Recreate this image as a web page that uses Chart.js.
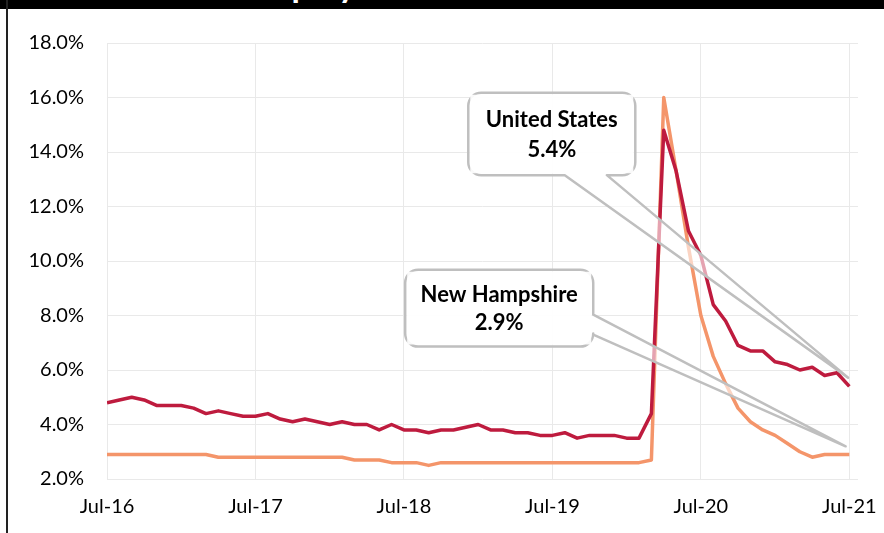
<!DOCTYPE html>
<html>
<head>
<meta charset="utf-8">
<script src="https://cdn.jsdelivr.net/npm/chart.js@4/dist/chart.umd.min.js"></script>
<style>
  html, body { margin: 0; padding: 0; background: #fff; }
  #wrap { position: absolute; left: 0; top: 0; width: 884px; height: 533px; }
  #bar { position: absolute; left: 0; top: 0; width: 884px; height: 9px; background: #000; overflow: hidden; z-index: 2; }
  #bar span { position: absolute; left: 201px; top: -33px; font: bold 34px Lato, sans-serif; line-height: 34px; color: #fff; white-space: nowrap; }
  #edge { position: absolute; left: 6px; top: 0; width: 2px; height: 533px; background: #222; z-index: 2; }
</style>
</head>
<body>
<div id="wrap">
  <div id="bar"><span>Unemployment Rate</span></div>
  <div id="edge"></div>
  <canvas id="c" width="884" height="533"></canvas>
</div>
<script>
// Tick labels on the x axis (one every 12 months, starting Jul-16)
const xTickLabels = ['Jul-16', 'Jul-17', 'Jul-18', 'Jul-19', 'Jul-20', 'Jul-21'];

// Monthly unemployment rate (%), Jul-16 .. Jul-21
const usRate = [
  4.8, 4.9, 5.0, 4.9, 4.7, 4.7, 4.7, 4.6, 4.4, 4.5, 4.4, 4.3,
  4.3, 4.4, 4.2, 4.1, 4.2, 4.1, 4.0, 4.1, 4.0, 4.0, 3.8, 4.0,
  3.8, 3.8, 3.7, 3.8, 3.8, 3.9, 4.0, 3.8, 3.8, 3.7, 3.7, 3.6,
  3.6, 3.7, 3.5, 3.6, 3.6, 3.6, 3.5, 3.5, 4.4, 14.8, 13.3, 11.1,
  10.2, 8.4, 7.8, 6.9, 6.7, 6.7, 6.3, 6.2, 6.0, 6.1, 5.8, 5.9,
  5.4
];
const nhRate = [
  2.9, 2.9, 2.9, 2.9, 2.9, 2.9, 2.9, 2.9, 2.9, 2.8, 2.8, 2.8,
  2.8, 2.8, 2.8, 2.8, 2.8, 2.8, 2.8, 2.8, 2.7, 2.7, 2.7, 2.6,
  2.6, 2.6, 2.5, 2.6, 2.6, 2.6, 2.6, 2.6, 2.6, 2.6, 2.6, 2.6,
  2.6, 2.6, 2.6, 2.6, 2.6, 2.6, 2.6, 2.6, 2.7, 16.0, 13.3, 10.5,
  8.0, 6.5, 5.5, 4.6, 4.1, 3.8, 3.6, 3.3, 3.0, 2.8, 2.9, 2.9,
  2.9
];
const seriesNames = ['United States', 'New Hampshire'];
const calloutValues = ['5.4%', '2.9%'];

const toPts = arr => arr.map((v, i) => ({ x: i, y: v }));

// Callout boxes, in data units (x = months since Jul-16, y = %)
const callouts = [
  { lines: [seriesNames[0], calloutValues[0]], x0: 29.2, x1: 42.7, y0: 13.15, y1: 16.17,
    side: 'bottom', b0: 37.0, b1: 40.4, tip: { x: 59.9, y: 5.72 } },
  { lines: [seriesNames[1], calloutValues[1]], x0: 24.1, x1: 39.3, y0: 6.86, y1: 9.68,
    side: 'right', b0: 7.3, b1: 8.03, tip: { x: 59.7, y: 3.2 } }
];

const calloutPlugin = {
  id: 'callouts',
  afterDatasetsDraw(chart) {
    const ctx = chart.ctx, xs = chart.scales.x, ys = chart.scales.y;
    const r = 13;
    callouts.forEach(c => {
      const L = xs.getPixelForValue(c.x0), R = xs.getPixelForValue(c.x1);
      const T = ys.getPixelForValue(c.y1), B = ys.getPixelForValue(c.y0);
      const tx = xs.getPixelForValue(c.tip.x), ty = ys.getPixelForValue(c.tip.y);
      ctx.save();
      ctx.beginPath();
      ctx.moveTo(L + r, T);
      ctx.lineTo(R - r, T);
      ctx.arcTo(R, T, R, T + r, r);
      if (c.side === 'right') {
        const p1 = ys.getPixelForValue(c.b1), p0 = ys.getPixelForValue(c.b0);
        ctx.lineTo(R, p1);
        ctx.lineTo(tx, ty);
        ctx.lineTo(R, p0);
      }
      ctx.lineTo(R, B - r);
      ctx.arcTo(R, B, R - r, B, r);
      if (c.side === 'bottom') {
        const q1 = xs.getPixelForValue(c.b1), q0 = xs.getPixelForValue(c.b0);
        ctx.lineTo(q1, B);
        ctx.lineTo(tx, ty);
        ctx.lineTo(q0, B);
      }
      ctx.lineTo(L + r, B);
      ctx.arcTo(L, B, L, B - r, r);
      ctx.lineTo(L, T + r);
      ctx.arcTo(L, T, L + r, T, r);
      ctx.closePath();
      ctx.fillStyle = 'rgba(255,255,255,0.6)';
      ctx.fill();
      ctx.lineWidth = 2.5;
      ctx.strokeStyle = '#bfbfbf';
      ctx.lineJoin = 'round';
      ctx.stroke();
      // white box interior
      ctx.beginPath();
      ctx.rect(L + 2, T + 2, R - L - 4, B - T - 4);
      ctx.fillStyle = 'rgba(255,255,255,0.9)';
      ctx.fill();
      ctx.fillStyle = '#000';
      ctx.font = 'bold 22px Lato, sans-serif';
      ctx.textAlign = 'center';
      ctx.textBaseline = 'middle';
      const cx = (L + R) / 2, h = B - T;
      ctx.fillText(c.lines[0], cx, T + h * 0.33);
      ctx.fillText(c.lines[1], cx, T + h * 0.69);
      ctx.restore();
    });
  }
};

const tickFont = { family: 'Lato, sans-serif', size: 20 };

new Chart(document.getElementById('c'), {
  type: 'line',
  data: {
    datasets: [
      { label: seriesNames[0], data: toPts(usRate), borderColor: '#be1b3e', borderWidth: 3.5,
        borderJoinStyle: 'round', pointRadius: 0, tension: 0, order: 1 },
      { label: seriesNames[1], data: toPts(nhRate), borderColor: '#f4956a', borderWidth: 3.5,
        borderJoinStyle: 'round', pointRadius: 0, tension: 0, order: 2 }
    ]
  },
  options: {
    responsive: false,
    animation: false,
    layout: { padding: { top: 43, right: 26, left: 0, bottom: 0 } },
    plugins: { legend: { display: false }, tooltip: { enabled: false }, title: { display: false } },
    scales: {
      x: {
        type: 'linear', min: 0, max: 60.7,
        afterBuildTicks: s => { s.ticks = [0, 12, 24, 36, 48, 60].map(v => ({ value: v })); },
        afterFit: s => { s.height = 54; s.paddingLeft = 0; s.paddingRight = 0; },
        ticks: { callback: v => xTickLabels[Math.round(v / 12)], color: '#000', font: tickFont,
                 padding: 16, maxRotation: 0, autoSkip: false },
        grid: { color: '#e9e9e9', lineWidth: 1, drawTicks: false },
        border: { display: false }
      },
      y: {
        min: 2, max: 18,
        afterFit: s => { s.width = 107; },
        ticks: { stepSize: 2, callback: v => v.toFixed(1) + '%', color: '#000', font: tickFont, padding: 23 },
        grid: { color: '#e9e9e9', lineWidth: 1, drawTicks: false },
        border: { display: false }
      }
    }
  },
  plugins: [calloutPlugin]
});
</script>
</body>
</html>
